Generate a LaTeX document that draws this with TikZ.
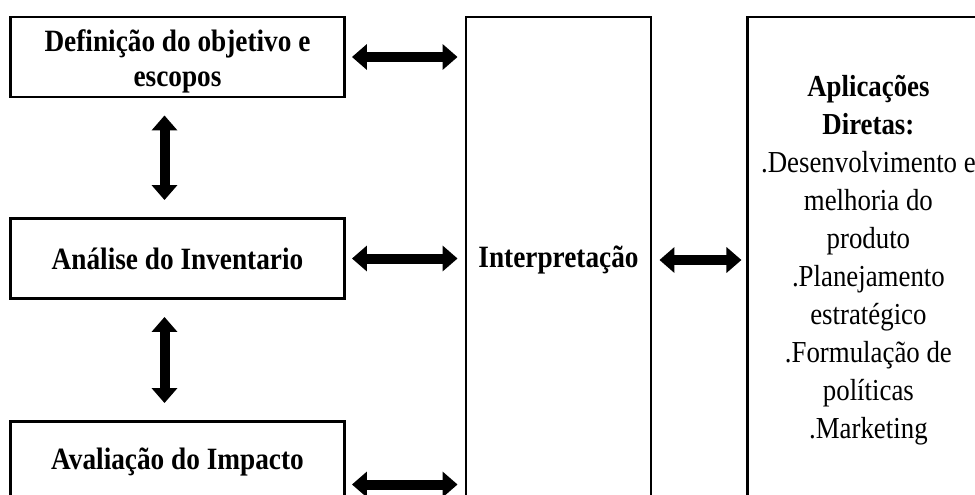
\documentclass[tikz,border=0pt]{standalone}
\usepackage{fontspec}
\setmainfont{Liberation Serif}[FakeStretch=0.88]
\usetikzlibrary{arrows.meta,positioning}

\begin{document}
\begin{tikzpicture}[
    x=1pt, y=-1pt,
    stage/.style={rectangle, draw, line width=2.9pt, minimum width=334pt, minimum height=80pt,
        align=center, font=\fontsize{31}{35}\selectfont\bfseries},
    tall/.style={rectangle, draw, line width=2.9pt, minimum height=486pt, align=center},
    dblarrow/.style={line width=10pt, line join=round,
        {Triangle[width=25pt 0 0,length=15pt 0 0]}-{Triangle[width=25pt 0 0,length=15pt 0 0]}}
]
\useasboundingbox (0,0) rectangle (975,495);
\clip (0,0) rectangle (975,495);

% Stages (left column)
\node[stage] (definicao) at (177.5,57) {\raisebox{-5pt}[\height][\depth]{\begin{tabular}{@{}c@{}}Definição do objetivo e\\escopos\end{tabular}}};
\node[stage] (analise) at (177.5,258.5) {Análise do Inventario};
\node[stage] (avaliacao) at (177.5,461.5) {Avaliação do Impacto};

% Interpretation and applications
\node[tall, minimum width=185pt, font=\fontsize{31}{35}\selectfont\bfseries] (interp) at (558.5,260) {Interpretação};
\node[tall, minimum width=241pt, right=94pt of interp,
      font=\fontsize{30.5}{38}\selectfont] (aplic) {%
    \textbf{Aplicações}\\\textbf{Diretas:}\\.Desenvolvimento e\\melhoria do\\produto\\.Planejamento\\estratégico\\.Formulação de\\políticas\\.Marketing};

% Vertical arrows
\draw[dblarrow] ([shift={(-13pt,-17pt)}]definicao.south) -- ([shift={(-13pt,17pt)}]analise.north);
\draw[dblarrow] ([shift={(-13pt,-17pt)}]analise.south) -- ([shift={(-13pt,17pt)}]avaliacao.north);

% Horizontal arrows
\coordinate (avalout) at ([yshift=-23pt]avaliacao.east);
\draw[dblarrow] ([xshift=6pt]definicao.east) -- ([xshift=-7pt]definicao.east -| interp.west);
\draw[dblarrow] ([xshift=6pt]analise.east) -- ([xshift=-7pt]analise.east -| interp.west);
\draw[dblarrow] ([xshift=6pt]avalout) -- ([xshift=-7pt]avalout -| interp.west);
\draw[dblarrow] ([xshift=7pt]interp.east) -- ([xshift=-5pt]interp.east -| aplic.west);

\end{tikzpicture}
\end{document}
